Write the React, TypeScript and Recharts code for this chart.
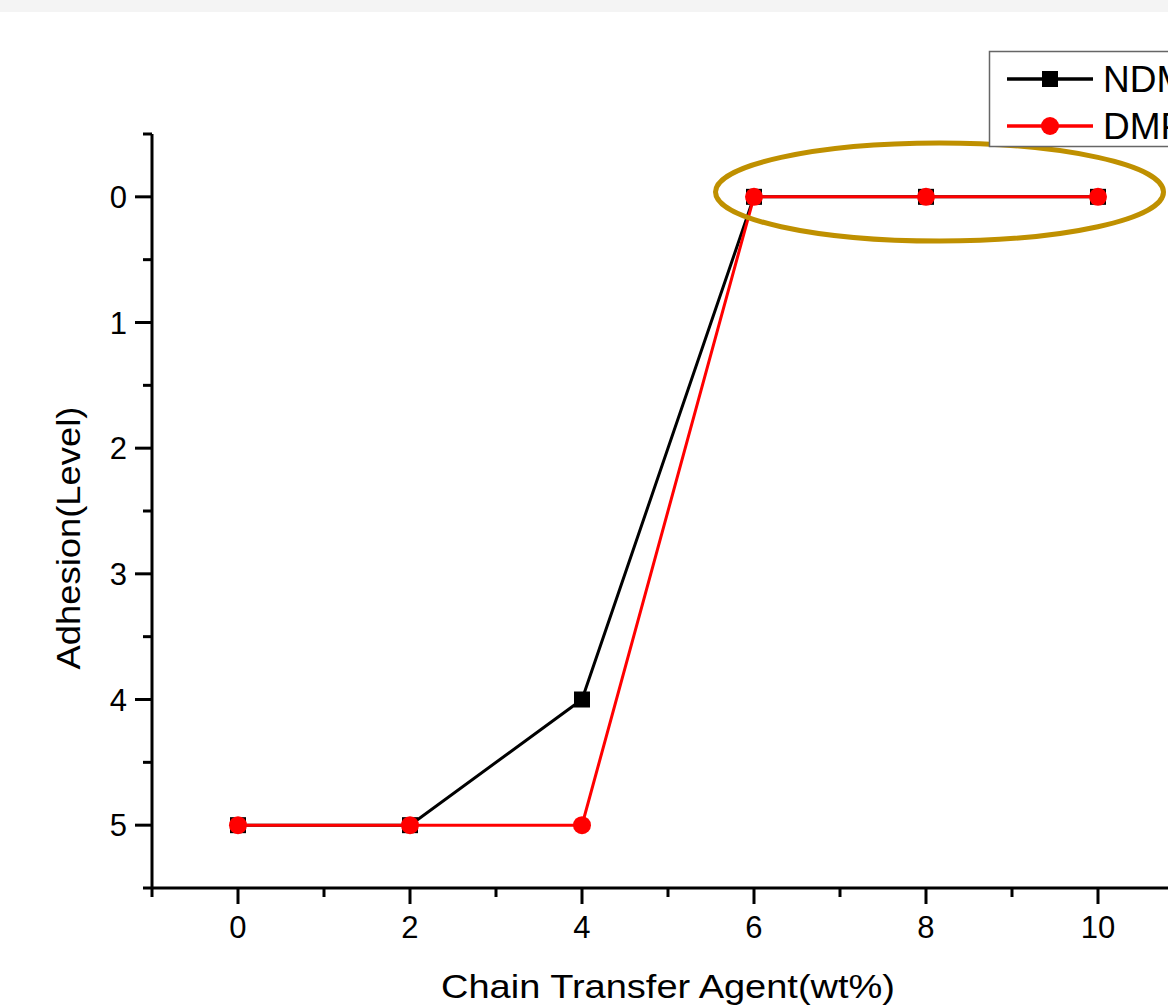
import { Label, Legend, Line, LineChart, ReferenceDot, XAxis, YAxis } from 'recharts';

const agent = [0, 2, 4, 6, 8, 10];
const ndm = [5, 5, 4, 0, 0, 0];
const dmp = [5, 5, 5, 0, 0, 0];
const xTicks = [-1, 0, 1, 2, 3, 4, 5, 6, 7, 8, 9, 10];
const yTicks = [-0.5, 0, 0.5, 1, 1.5, 2, 2.5, 3, 3.5, 4, 4.5, 5, 5.5];

const data = agent.map((x, i) => ({ x, ndm: ndm[i], dmp: dmp[i] }));

const font = '"Liberation Sans", Arial, sans-serif';

function XTick({ x, y, payload }: any) {
    const v = payload.value;
    const major = v % 2 === 0;
    return (
        <g>
            <line x1={x} x2={x} y1={y} y2={y + (major ? 16 : 9)} stroke="#000" strokeWidth={3} />
            {major && (
                <text x={x} y={y + 50} textAnchor="middle" fontSize={31} fontFamily={font} fill="#000">
                    {v}
                </text>
            )}
        </g>
    );
}

function YTick({ x, y, payload }: any) {
    const v = payload.value;
    const major = Number.isInteger(v);
    return (
        <g>
            <line x1={x - (major ? 17 : 9)} x2={x} y1={y} y2={y} stroke="#000" strokeWidth={3} />
            {major && (
                <text x={x - 25} y={y + 11} textAnchor="end" fontSize={31} fontFamily={font} fill="#000">
                    {v}
                </text>
            )}
        </g>
    );
}

function Square({ cx, cy }: any) {
    return <rect x={cx - 8} y={cy - 8} width={16} height={16} fill="#000" />;
}

function Circle({ cx, cy }: any) {
    return <circle cx={cx} cy={cy} r={9} fill="#ff0000" />;
}

function LegendBox() {
    const rows = [
        { name: 'NDM', color: '#000', square: true },
        { name: 'DMP', color: '#ff0000', square: false },
    ];
    return (
        <svg width={200} height={96} style={{ display: 'block', overflow: 'visible' }}>
            <rect x={0.5} y={0.5} width={220} height={95} fill="#fff" stroke="#666" strokeWidth={1.5} />
            {rows.map((r, i) => {
                const cy = 28 + i * 47;
                return (
                    <g key={r.name}>
                        <line x1={18} x2={104} y1={cy} y2={cy} stroke={r.color} strokeWidth={3.5} />
                        {r.square ? (
                            <rect x={53} y={cy - 8} width={16} height={16} fill={r.color} />
                        ) : (
                            <circle cx={61} cy={cy} r={9} fill={r.color} />
                        )}
                        <text x={114} y={cy + 13} fontSize={37} fontFamily={font} fill="#000">
                            {r.name}
                        </text>
                    </g>
                );
            })}
        </svg>
    );
}

export default function App() {
    return (
        <div style={{ position: 'absolute', left: 0, top: 0, width: 1168, height: 1007, overflow: 'hidden', background: '#fff' }}>
            <div style={{ position: 'absolute', left: 0, top: 0, width: 1168, height: 12, background: '#f4f4f4' }} />
            <LineChart width={1168} height={1007} data={data} margin={{ top: 134, right: 0, left: 52, bottom: 59 }}>
                <XAxis
                    type="number"
                    dataKey="x"
                    domain={[-1, 10.814]}
                    allowDataOverflow
                    ticks={xTicks}
                    interval={0}
                    tick={<XTick />}
                    tickLine={false}
                    tickSize={0}
                    tickMargin={0}
                    height={60}
                    axisLine={{ stroke: '#000', strokeWidth: 3 }}
                >
                    <Label
                        content={() => (
                            <text
                                x={668}
                                y={998}
                                textAnchor="middle"
                                fontSize={33}
                                fontFamily={font}
                                fill="#000"
                                textLength={454}
                                lengthAdjust="spacingAndGlyphs"
                            >
                                Chain Transfer Agent(wt%)
                            </text>
                        )}
                    />
                </XAxis>
                <YAxis
                    type="number"
                    reversed
                    domain={[-0.5, 5.5]}
                    allowDataOverflow
                    ticks={yTicks}
                    interval={0}
                    tick={<YTick />}
                    tickLine={false}
                    tickSize={0}
                    tickMargin={0}
                    width={100}
                    axisLine={{ stroke: '#000', strokeWidth: 3 }}
                >
                    <Label
                        content={() => (
                            <text
                                x={80}
                                y={538}
                                transform="rotate(-90 80 538)"
                                textAnchor="middle"
                                fontSize={33}
                                fontFamily={font}
                                fill="#000"
                                textLength={263}
                                lengthAdjust="spacingAndGlyphs"
                            >
                                Adhesion(Level)
                            </text>
                        )}
                    />
                </YAxis>
                <Legend
                    content={() => <LegendBox />}
                    wrapperStyle={{ position: 'absolute', left: 989, top: 51, width: 0, height: 0, overflow: 'visible' }}
                />
                <ReferenceDot
                    x={8.157}
                    y={-0.038}
                    ifOverflow="visible"
                    shape={(p: any) => (
                        <ellipse cx={p.cx} cy={p.cy} rx={224} ry={49} fill="none" stroke="#bf9000" strokeWidth={5} />
                    )}
                />
                <Line
                    type="linear"
                    dataKey="ndm"
                    stroke="#000"
                    strokeWidth={3}
                    dot={<Square />}
                    activeDot={false}
                    isAnimationActive={false}
                />
                <Line
                    type="linear"
                    dataKey="dmp"
                    stroke="#ff0000"
                    strokeWidth={3}
                    dot={<Circle />}
                    activeDot={false}
                    isAnimationActive={false}
                />
            </LineChart>
        </div>
    );
}
